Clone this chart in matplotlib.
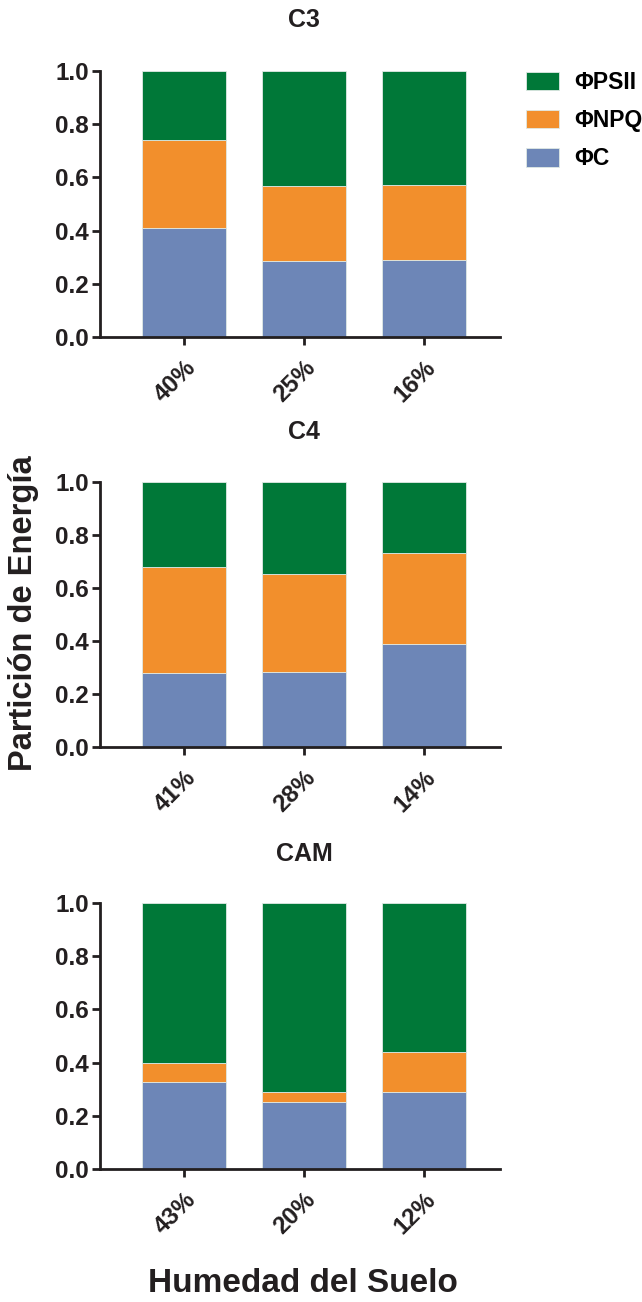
import matplotlib
matplotlib.use('Agg')
import matplotlib.pyplot as plt
from matplotlib import font_manager as fm
import numpy as np

# Liberation Sans en negrita (evitar la variante Narrow)
ruta_negrita = None
for f in fm.fontManager.ttflist:
    if f.name == 'Liberation Sans' and f.weight in (700, 'bold') and 'Italic' not in f.fname \
            and 'Narrow' not in f.fname:
        ruta_negrita = f.fname
        break


def fuente(tam):
    if ruta_negrita:
        return fm.FontProperties(fname=ruta_negrita, size=tam)
    return fm.FontProperties(family='DejaVu Sans', weight='bold', size=tam)


# fracciones de energía por tipo fotosintético
grupos = ['C3', 'C4', 'CAM']
humedad = [['40%', '25%', '16%'],
           ['41%', '28%', '14%'],
           ['43%', '20%', '12%']]
phi_c = [[0.41, 0.286, 0.291],
         [0.278, 0.282, 0.390],
         [0.325, 0.252, 0.288]]
phi_npq = [[0.329, 0.280, 0.282],
           [0.402, 0.371, 0.342],
           [0.074, 0.039, 0.150]]
phi_psii = [[0.261, 0.434, 0.427],
            [0.320, 0.347, 0.268],
            [0.601, 0.709, 0.562]]

col_c = '#6d86b7'
col_npq = '#f28f2c'
col_psii = '#007838'
tinta = '#231f20'

fig = plt.figure(figsize=(6.42, 13.02), dpi=100)

# posición de cada panel (izq, abajo, ancho, alto) en fracción de figura
pos = [[100 / 642, 0.7412, 400 / 642, 0.2043],
       [100 / 642, 0.4263, 400 / 642, 0.2035],
       [100 / 642, 0.1022, 400 / 642, 0.2043]]
titulo_y = [20, 432, 854]

axs = []
for i in range(3):
    ax = fig.add_axes(pos[i])
    x = np.arange(3)
    c = np.array(phi_c[i])
    n = np.array(phi_npq[i])
    p = np.array(phi_psii[i])
    kw = dict(width=0.7, edgecolor='#dfe9e4', linewidth=0.6)
    ax.bar(x, c, color=col_c, label='ΦC', **kw)
    ax.bar(x, n, bottom=c, color=col_npq, label='ΦNPQ', **kw)
    ax.bar(x, p, bottom=c + n, color=col_psii, label='ΦPSII', **kw)
    ax.set_xlim(-0.7, 2.633)
    ax.set_ylim(0, 1.0)
    ax.set_yticks([0.0, 0.2, 0.4, 0.6, 0.8, 1.0])
    ax.set_yticklabels(['0.0', '0.2', '0.4', '0.6', '0.8', '1.0'], fontproperties=fuente(17.5))
    ax.set_xticks(x)
    ax.set_xticklabels(humedad[i], rotation=45, ha='right', rotation_mode='anchor',
                       fontproperties=fuente(17.5))
    for s in ['top', 'right']:
        ax.spines[s].set_visible(False)
    for s in ['left', 'bottom']:
        ax.spines[s].set_linewidth(2.0)
        ax.spines[s].set_color(tinta)
    ax.tick_params(axis='both', width=2.0, length=6, color=tinta, labelcolor=tinta)
    ax.tick_params(axis='y', pad=2)
    ax.tick_params(axis='x', pad=8)
    fig.text(304 / 642, 1 - titulo_y[i] / 1302, grupos[i], ha='center', va='center',
             fontproperties=fuente(18), color=tinta)
    axs.append(ax)

h, l = axs[0].get_legend_handles_labels()
fig.legend(h[::-1], l[::-1], loc='upper left', bbox_to_anchor=(526 / 642, 1 - 71 / 1302),
           frameon=False, borderpad=0, borderaxespad=0, handlelength=1.44,
           handleheight=0.87, labelspacing=0.66, handletextpad=0.65, prop=fuente(16.5))

fig.text(24 / 642, 1 - 613 / 1302, 'Partición de Energía', rotation=90,
         ha='center', va='center', fontproperties=fuente(23.5), color=tinta)
fig.text(303 / 642, 1 - 1284 / 1302, 'Humedad del Suelo', ha='center', va='center',
         fontproperties=fuente(24), color=tinta)

fig.savefig('out.png', dpi=100)
